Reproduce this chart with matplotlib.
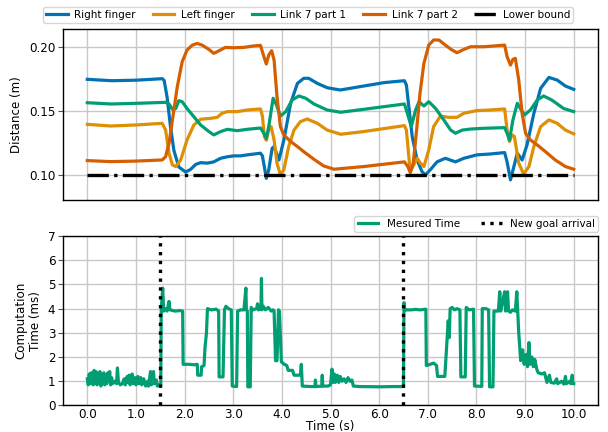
import matplotlib
matplotlib.use("Agg")
import matplotlib.pyplot as plt
import numpy as np

# colours (seaborn colorblind)
c_blue = "#0173b2"
c_orange = "#de8f05"
c_green = "#029e73"
c_red = "#d55e00"

# ---- distances ----
right_t = [0.0, 0.5, 1.0, 1.54, 1.58, 1.64, 1.71, 1.78, 1.88, 2.02, 2.12, 2.23, 2.33, 2.47, 2.60,
           2.74, 2.88, 3.01, 3.15, 3.29, 3.56, 3.60, 3.64, 3.68, 3.73, 3.80, 3.84, 3.94, 4.04,
           4.18, 4.32, 4.45, 4.55, 4.73, 4.93, 5.2, 5.68, 6.1, 6.52, 6.56, 6.61, 6.68, 6.78,
           6.88, 6.95, 7.05, 7.19, 7.36, 7.57, 7.74, 8.01, 8.29, 8.58, 8.63, 8.70, 8.77, 8.84,
           8.94, 9.04, 9.18, 9.32, 9.49, 9.66, 9.83, 10.0]
right_d = [0.1749, 0.1738, 0.1742, 0.1754, 0.1740, 0.161, 0.1377, 0.119, 0.106, 0.102, 0.104, 0.108,
           0.1094, 0.109, 0.110, 0.1128, 0.114, 0.1147, 0.1147, 0.1155, 0.1168, 0.1147, 0.106,
           0.097, 0.1037, 0.1207, 0.122, 0.1115, 0.127, 0.156, 0.1717, 0.1757, 0.1757, 0.1717,
           0.1683, 0.1665, 0.1696, 0.1723, 0.1738, 0.1704, 0.1534, 0.1298, 0.1115, 0.1024,
           0.0997, 0.1037, 0.110, 0.1128, 0.110, 0.1128, 0.1155, 0.1162, 0.1173, 0.110, 0.0958,
           0.1063, 0.1168, 0.1115, 0.1233, 0.148, 0.1678, 0.1764, 0.1743, 0.1696, 0.167]

left_t = [0.0, 0.48, 1.0, 1.54, 1.61, 1.68, 1.75, 1.82, 1.92, 2.05, 2.19, 2.33, 2.53, 2.67, 2.77,
          2.88, 3.08, 3.29, 3.56, 3.60, 3.64, 3.68, 3.73, 3.78, 3.84, 3.90, 3.97, 4.04, 4.14,
          4.25, 4.38, 4.52, 4.73, 4.93, 5.21, 5.68, 6.52, 6.56, 6.61, 6.64, 6.71, 6.78, 6.85,
          6.92, 7.02, 7.12, 7.26, 7.43, 7.60, 7.74, 8.01, 8.29, 8.58, 8.63, 8.68, 8.73, 8.78,
          8.87, 8.97, 9.08, 9.18, 9.32, 9.49, 9.66, 9.83, 10.0]
left_d = [0.1395, 0.1382, 0.1390, 0.1403, 0.135, 0.1168, 0.1076, 0.1063, 0.1115, 0.1272, 0.139,
          0.1435, 0.1442, 0.145, 0.1482, 0.1495, 0.1495, 0.1508, 0.1516, 0.146, 0.130, 0.127,
          0.135, 0.1377, 0.1272, 0.1089, 0.0997, 0.1037, 0.122, 0.135, 0.1416, 0.1437, 0.1403,
          0.135, 0.1317, 0.1338, 0.1385, 0.135, 0.1141, 0.1024, 0.1076, 0.1128, 0.1089, 0.1063,
          0.1194, 0.1377, 0.146, 0.145, 0.145, 0.1482, 0.1503, 0.1508, 0.1516, 0.135, 0.126,
          0.1312, 0.130, 0.109, 0.1005, 0.1063, 0.122, 0.1377, 0.143, 0.1403, 0.135, 0.132]

link1_t = [0.0, 0.48, 1.0, 1.61, 1.68, 1.75, 1.82, 1.88, 1.95, 2.05, 2.19, 2.33, 2.50, 2.60, 2.74,
           2.88, 3.08, 3.29, 3.56, 3.63, 3.68, 3.73, 3.82, 3.89, 3.97, 4.08, 4.21, 4.35, 4.49,
           4.66, 4.93, 5.21, 5.68, 6.52, 6.58, 6.66, 6.75, 6.82, 6.92, 7.02, 7.16, 7.33, 7.47,
           7.57, 7.71, 7.88, 8.15, 8.58, 8.63, 8.68, 8.75, 8.84, 8.92, 8.99, 9.11, 9.25, 9.38,
           9.55, 9.79, 10.0]
link1_d = [0.1565, 0.1555, 0.1560, 0.1568, 0.1555, 0.1513, 0.152, 0.1581, 0.1573, 0.152, 0.1455,
           0.139, 0.1338, 0.1312, 0.1338, 0.1356, 0.1345, 0.1356, 0.1366, 0.1325, 0.1285, 0.1377,
           0.160, 0.1547, 0.146, 0.1495, 0.1586, 0.1618, 0.160, 0.1555, 0.1508, 0.149, 0.1513,
           0.1555, 0.1482, 0.1377, 0.1508, 0.1573, 0.1539, 0.1573, 0.152, 0.1429, 0.135, 0.1325,
           0.135, 0.1358, 0.1364, 0.1369, 0.1325, 0.1272, 0.1429, 0.156, 0.1508, 0.1469, 0.1508,
           0.1586, 0.1618, 0.1586, 0.152, 0.1495]

link2_t = [0.0, 0.48, 1.0, 1.54, 1.61, 1.68, 1.75, 1.85, 1.95, 2.05, 2.16, 2.26, 2.36, 2.50, 2.60,
           2.71, 2.84, 3.01, 3.22, 3.39, 3.56, 3.62, 3.68, 3.73, 3.79, 3.84, 3.90, 3.97, 4.04,
           4.18, 4.32, 4.45, 4.66, 4.86, 5.07, 5.68, 6.52, 6.59, 6.64, 6.70, 6.77, 6.84, 6.92,
           7.02, 7.12, 7.23, 7.36, 7.50, 7.60, 7.74, 7.88, 8.15, 8.42, 8.58, 8.63, 8.70, 8.75,
           8.80, 8.87, 8.94, 9.01, 9.11, 9.25, 9.42, 9.62, 9.83, 10.0]
link2_d = [0.111, 0.1102, 0.1106, 0.1115, 0.1141, 0.1246, 0.1429, 0.1691, 0.1887, 0.1979, 0.2018,
           0.2031, 0.2018, 0.1984, 0.1953, 0.1974, 0.200, 0.1997, 0.200, 0.201, 0.2016, 0.194,
           0.1869, 0.194, 0.1974, 0.190, 0.1613, 0.1377, 0.1312, 0.126, 0.122, 0.118, 0.112,
           0.1068, 0.1042, 0.1063, 0.110, 0.1063, 0.1016, 0.1089, 0.135, 0.1639, 0.1874, 0.2018,
           0.2058, 0.2058, 0.2018, 0.1979, 0.1958, 0.1984, 0.2005, 0.2005, 0.2013, 0.2018,
           0.1927, 0.1861, 0.1906, 0.1914, 0.1743, 0.148, 0.1325, 0.1272, 0.1233, 0.118, 0.1115,
           0.1063, 0.1042]

bound_t = [0.0, 10.0]
bound_d = [0.10, 0.10]

# ---- computation time ----
meas_t = [0.00, 0.02, 0.04, 0.06, 0.08, 0.10, 0.12, 0.14, 0.16, 0.18, 0.20, 0.22, 0.24, 0.26,
          0.28, 0.30, 0.32, 0.34, 0.36, 0.38, 0.40, 0.42, 0.44, 0.46, 0.48, 0.50, 0.52, 0.56,
          0.60, 0.62, 0.64, 0.68, 0.72, 0.76, 0.78, 0.82, 0.84, 0.86, 0.88, 0.92, 0.94, 0.98,
          1.00, 1.04, 1.06, 1.10, 1.12, 1.16, 1.20, 1.24, 1.26, 1.30, 1.32, 1.36, 1.38, 1.42,
          1.44, 1.48, 1.51,
          1.52, 1.55, 1.57, 1.60, 1.64, 1.68, 1.70, 1.80, 1.90, 1.96, 1.97, 2.10, 2.20, 2.26,
          2.27, 2.34, 2.35, 2.40, 2.42, 2.45, 2.47, 2.55, 2.65, 2.70, 2.71, 2.79, 2.82, 2.85,
          2.90, 2.96, 2.98, 3.07, 3.09, 3.15, 3.22, 3.26, 3.27, 3.29, 3.30, 3.35, 3.37, 3.40,
          3.48, 3.50, 3.52, 3.57, 3.58, 3.59, 3.62, 3.66, 3.72, 3.78, 3.82, 3.84, 3.87, 3.90,
          3.93, 3.95, 3.99, 4.05, 4.10, 4.13, 4.22, 4.25, 4.36, 4.38, 4.40, 4.42, 4.60, 4.68,
          4.69, 4.70, 4.82, 4.83, 4.84, 4.95, 5.00, 5.03, 5.05, 5.08, 5.10, 5.14, 5.17, 5.20,
          5.24, 5.28, 5.32, 5.36, 5.40, 5.44, 5.47, 5.60, 6.00, 6.30, 6.50,
          6.51, 6.53, 6.65, 6.75, 6.85, 6.96, 6.97, 7.05, 7.12, 7.18, 7.20, 7.35, 7.38, 7.42,
          7.44, 7.46, 7.50, 7.55, 7.60, 7.66, 7.68, 7.77, 7.79, 7.85, 7.94, 7.96, 8.11, 8.12,
          8.20, 8.25, 8.27, 8.34, 8.36, 8.45, 8.48, 8.50, 8.58, 8.60, 8.62, 8.64, 8.66, 8.70,
          8.74, 8.80, 8.83, 8.85, 8.87, 8.91, 8.95, 8.98, 9.02, 9.05, 9.08, 9.10, 9.14, 9.17,
          9.20, 9.24, 9.27, 9.35, 9.40, 9.45, 9.50, 9.53, 9.60, 9.65, 9.67, 9.75, 9.80, 9.83,
          9.85, 9.92, 9.94, 9.97, 9.98, 10.0]
meas_v = [1.10, 0.85, 1.30, 0.90, 1.35, 0.95, 0.85, 1.45, 0.90, 1.40, 0.85, 1.30, 0.95, 1.40,
          0.80, 1.25, 0.90, 1.35, 0.85, 1.20, 0.90, 1.35, 1.00, 1.40, 0.85, 1.15, 0.90, 1.00,
          0.90, 1.55, 0.95, 0.85, 0.90, 1.10, 0.85, 1.20, 0.95, 1.25, 0.85, 1.30, 0.90, 1.15,
          0.85, 1.20, 0.90, 1.15, 0.85, 1.10, 0.80, 1.00, 0.80, 1.40, 0.85, 1.40, 0.90, 1.05,
          0.80, 0.85, 0.80,
          3.95, 4.85, 3.90, 4.00, 3.90, 4.30, 3.95, 3.90, 3.92, 3.90, 1.70, 1.70, 1.68, 1.70,
          1.25, 1.25, 1.60, 1.65, 2.40, 3.00, 4.00, 3.95, 3.98, 3.90, 1.18, 1.18, 3.95, 4.10,
          4.00, 3.95, 0.80, 0.78, 3.90, 3.95, 3.95, 4.85, 3.95, 3.90, 0.77, 0.77, 4.05, 3.95,
          4.00, 4.20, 3.95, 4.00, 5.25, 3.95, 4.10, 3.95, 4.05, 3.90, 3.95, 3.90, 1.85, 1.85,
          3.95, 3.90, 1.80, 1.70, 1.65, 1.45, 1.45, 1.25, 1.25, 1.25, 1.70, 0.80, 0.78, 0.78,
          1.05, 0.78, 0.80, 1.25, 0.80, 0.80, 0.85, 1.50, 0.95, 1.30, 0.95, 1.25, 0.95, 1.20,
          1.00, 1.10, 0.95, 1.15, 1.00, 1.05, 0.80, 0.78, 0.77, 0.78, 0.78,
          4.25, 3.95, 3.95, 3.97, 3.95, 3.98, 1.65, 1.70, 1.75, 1.65, 1.20, 1.20, 2.20, 3.50,
          2.80, 4.00, 4.05, 3.95, 4.00, 3.95, 1.18, 1.18, 4.05, 3.95, 3.98, 0.80, 0.79, 4.00,
          4.00, 3.95, 0.77, 0.77, 3.90, 3.90, 4.70, 3.90, 4.70, 3.90, 4.00, 4.70, 3.90, 3.85,
          3.95, 3.90, 4.70, 3.80, 3.00, 1.85, 2.30, 1.70, 2.10, 1.60, 2.60, 1.70, 2.00, 1.60,
          1.90, 1.50, 1.35, 1.30, 1.35, 0.95, 1.25, 0.95, 0.92, 1.10, 0.90, 1.00, 0.88, 1.20,
          0.90, 1.00, 0.90, 1.25, 0.90, 0.90]

goal_times = [1.5, 6.5]
x_ticks = [0, 1, 2, 3, 4, 5, 6, 7, 8, 9, 10]

plt.rcParams["font.family"] = "DejaVu Sans"
plt.rcParams["font.size"] = 8.6

fig = plt.figure(figsize=(6.08, 4.32), dpi=100)
ax1 = fig.add_axes([0.1036, 0.537, 0.880, 0.396])
ax2 = fig.add_axes([0.1036, 0.0615, 0.880, 0.392])

lw = 2.3
ax1.plot(right_t, right_d, color=c_blue, lw=lw, label="Right finger")
ax1.plot(left_t, left_d, color=c_orange, lw=lw, label="Left finger")
ax1.plot(link1_t, link1_d, color=c_green, lw=lw, label="Link 7 part 1")
ax1.plot(link2_t, link2_d, color=c_red, lw=lw, label="Link 7 part 2")
ax1.plot(bound_t, bound_d, color="black", lw=2.4, ls="-.", label="Lower bound")

ax2.plot(meas_t, meas_v, color=c_green, lw=2.3, label="Mesured Time")
for i, g in enumerate(goal_times):
    ax2.axvline(g, color="black", ls=":", lw=2.4, label="New goal arrival" if i == 0 else None)

for ax in (ax1, ax2):
    ax.set_xlim(-0.5, 10.5)
    ax.set_xticks(x_ticks)
    ax.grid(True, color="#c8c8c8", lw=1.0)
    ax.set_axisbelow(True)
    for s in ax.spines.values():
        s.set_color("black")
        s.set_linewidth(1.0)
    ax.tick_params(axis="y", direction="out", length=3.5, width=0.8, color="#555555",
                   labelsize=8.6, pad=2)
    ax.tick_params(axis="x", direction="out", length=0, labelsize=8.6, pad=2)

ax1.set_ylim(0.08, 0.2145)
ax1.set_yticks([0.10, 0.15, 0.20])
ax1.set_yticklabels(["0.10", "0.15", "0.20"])
ax1.tick_params(axis="x", labelbottom=False)
ax1.set_ylabel("Distance (m)", fontsize=8.6)

ax2.set_ylim(0, 7)
ax2.set_yticks(range(8))
ax2.set_xticklabels([f"{v:.1f}" for v in x_ticks])
ax2.set_xlabel("Time (s)", fontsize=8.6, labelpad=-1)
ax2.set_ylabel("Computation\nTime (ms)", fontsize=8.6)

h1, l1 = ax1.get_legend_handles_labels()
fig.legend(h1, l1, loc="upper center", bbox_to_anchor=(0.5066, 0.9845), ncol=5,
           fontsize=7.5, borderaxespad=0, borderpad=0.28, handlelength=2.1,
           handletextpad=0.65, columnspacing=1.6, edgecolor="#cccccc", fancybox=True)
ax2.legend(loc="lower right", bbox_to_anchor=(1.0, 1.025), ncol=2, fontsize=7.5,
           borderaxespad=0, borderpad=0.3, handlelength=2.0, handletextpad=0.8,
           columnspacing=2.0, edgecolor="#cccccc", fancybox=True)

fig.savefig("out.png", dpi=100)
